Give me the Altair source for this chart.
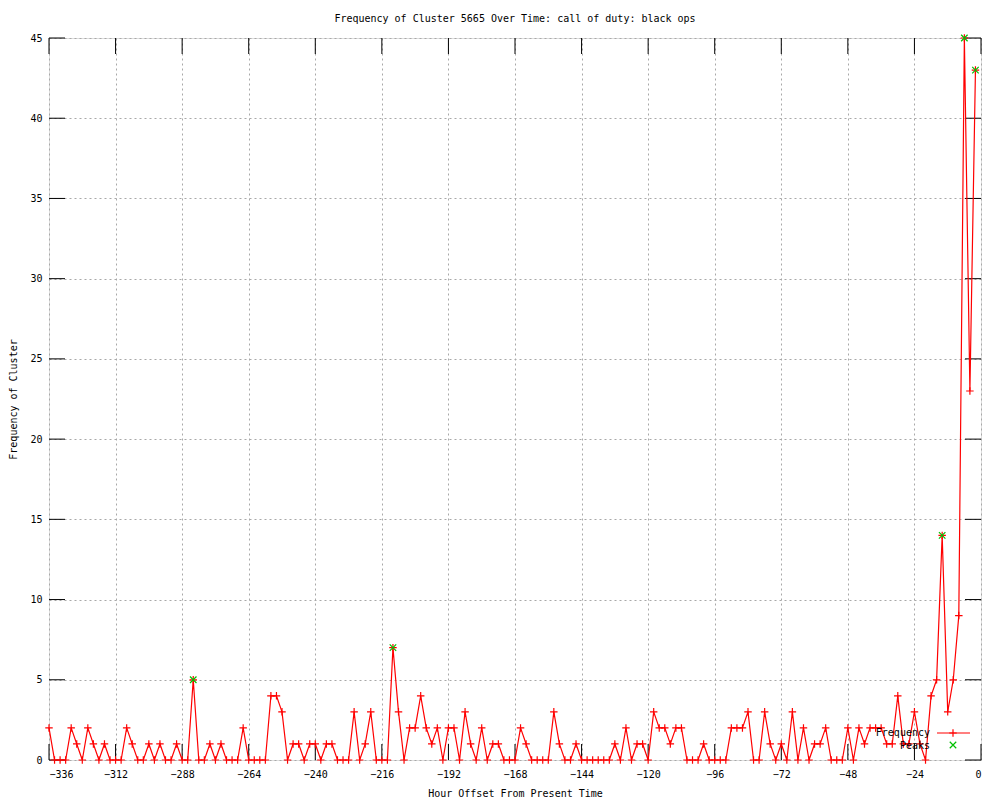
import altair as alt
import pandas as pd

# ---- data ----
hours = list(range(-336, 0, 2))  # 2-hour bins from -336 to -2
freq = [
    2, 0, 0, 0, 2, 1, 0, 2, 1, 0,
    1, 0, 0, 0, 2, 1, 0, 0, 1, 0,
    1, 0, 0, 1, 0, 0, 5, 0, 0, 1,
    0, 1, 0, 0, 0, 2, 0, 0, 0, 0,
    4, 4, 3, 0, 1, 1, 0, 1, 1, 0,
    1, 1, 0, 0, 0, 3, 0, 1, 3, 0,
    0, 0, 7, 3, 0, 2, 2, 4, 2, 1,
    2, 0, 2, 2, 0, 3, 1, 0, 2, 0,
    1, 1, 0, 0, 0, 2, 1, 0, 0, 0,
    0, 3, 1, 0, 0, 1, 0, 0, 0, 0,
    0, 0, 1, 0, 2, 0, 1, 1, 0, 3,
    2, 2, 1, 2, 2, 0, 0, 0, 1, 0,
    0, 0, 0, 2, 2, 2, 3, 0, 0, 3,
    1, 0, 1, 0, 3, 0, 2, 0, 1, 1,
    2, 0, 0, 0, 2, 0, 2, 1, 2, 2,
    2, 1, 1, 4, 1, 1, 3, 1, 0, 4,
    5, 14, 3, 5, 9, 45, 23, 43,
]
peak_hours = [-284, -212, -14, -6, -2]
peak_values = [5, 7, 14, 45, 43]

x_ticks = [-336, -312, -288, -264, -240, -216, -192, -168, -144, -120, -96, -72, -48, -24, 0]
y_ticks = [0, 5, 10, 15, 20, 25, 30, 35, 40, 45]

title_text = "Frequency of Cluster 5665 Over Time: call of duty: black ops"
x_title = "Hour Offset From Present Time"
y_title = "Frequency of Cluster"
legend_labels = ["Frequency", "Peaks"]

# ---- styling ----
FONT = "DejaVu Sans Mono"
FS = 10
RED = "#ff0000"
GREEN = "#00c000"
GRID = "#a8a8a8"
W, H = 932, 722
TICK = 16

df = pd.DataFrame({"hour": hours, "freq": freq})
peaks_df = pd.DataFrame({"hour": peak_hours, "freq": peak_values})
xt_df = pd.DataFrame({"hour": x_ticks})
yt_df = pd.DataFrame({"freq": y_ticks})

xs = alt.Scale(domain=[-336, 0], nice=False, zero=False)
ys = alt.Scale(domain=[0, 45], nice=False, zero=False)

x_axis = alt.Axis(
    values=x_ticks, format="d", ticks=False, domain=False,
    grid=True, gridDash=[2, 3], gridColor=GRID, gridWidth=1, gridOpacity=1,
    labelFont=FONT, labelFontSize=FS, labelColor="black", labelPadding=9,
    labelOverlap=False,
    title=x_title, titleFont=FONT, titleFontSize=FS, titleFontWeight="normal",
    titleColor="black", titleX=W / 2, titleY=33, titleBaseline="middle",
    titleAlign="center",
)
y_axis = alt.Axis(
    values=y_ticks, format="d", ticks=False, domain=False,
    grid=True, gridDash=[2, 3], gridColor=GRID, gridWidth=1, gridOpacity=1,
    labelFont=FONT, labelFontSize=FS, labelColor="black", labelPadding=7,
    labelOverlap=False,
    title=y_title, titleFont=FONT, titleFontSize=FS, titleFontWeight="normal",
    titleColor="black", titleX=-36, titleY=H / 2, titleAngle=270,
    titleBaseline="middle", titleAlign="center",
)

line = alt.Chart(df).mark_line(color=RED, strokeWidth=1.2).encode(
    x=alt.X("hour:Q", scale=xs, axis=x_axis),
    y=alt.Y("freq:Q", scale=ys, axis=y_axis),
)
plus_shape = "M-1,0L1,0M0,-1L0,1"
x_shape = "M-1,-1L1,1M-1,1L1,-1"
points = alt.Chart(df).mark_point(
    shape=plus_shape, size=56, filled=False, color=RED, strokeWidth=1.2, opacity=1
).encode(x="hour:Q", y="freq:Q")
peaks = alt.Chart(peaks_df).mark_point(
    shape=x_shape, size=42, filled=False, color=GREEN, strokeWidth=1.2, opacity=1
).encode(x="hour:Q", y="freq:Q")

# gnuplot-style inward ticks on all four sides
xt_bottom = alt.Chart(xt_df).mark_rule(color="black", strokeWidth=1).encode(
    x="hour:Q", y=alt.value(H), y2=alt.value(H - TICK))
xt_top = alt.Chart(xt_df).mark_rule(color="black", strokeWidth=1).encode(
    x="hour:Q", y=alt.value(0), y2=alt.value(TICK))
yt_left = alt.Chart(yt_df).mark_rule(color="black", strokeWidth=1).encode(
    y="freq:Q", x=alt.value(0), x2=alt.value(TICK))
yt_right = alt.Chart(yt_df).mark_rule(color="black", strokeWidth=1).encode(
    y="freq:Q", x=alt.value(W), x2=alt.value(W - TICK))

# legend (inside, lower right)
one = pd.DataFrame({"k": [0]})
leg_freq = alt.Chart(pd.DataFrame({"label": [legend_labels[0]]})).mark_text(
    align="right", baseline="middle", font=FONT, fontSize=FS, color="black"
).encode(text="label:N", x=alt.value(881), y=alt.value(695))
leg_peaks = alt.Chart(pd.DataFrame({"label": [legend_labels[1]]})).mark_text(
    align="right", baseline="middle", font=FONT, fontSize=FS, color="black"
).encode(text="label:N", x=alt.value(881), y=alt.value(708))
leg_line = alt.Chart(one).mark_rule(color=RED, strokeWidth=1.2).encode(
    x=alt.value(888), x2=alt.value(921), y=alt.value(695))
leg_plus = alt.Chart(one).mark_point(
    shape=plus_shape, size=56, filled=False, color=RED, strokeWidth=1.2, opacity=1
).encode(x=alt.value(904), y=alt.value(695))
leg_x = alt.Chart(one).mark_point(
    shape=x_shape, size=42, filled=False, color=GREEN, strokeWidth=1.2, opacity=1
).encode(x=alt.value(904), y=alt.value(707))

chart = alt.layer(
    xt_bottom, xt_top, yt_left, yt_right,
    line, points, peaks,
    leg_line, leg_plus, leg_x, leg_freq, leg_peaks,
).properties(
    width=W, height=H,
    title=alt.TitleParams(
        text=title_text, font=FONT, fontSize=FS, fontWeight="normal",
        color="black", anchor="middle", frame="group", offset=8,
    ),
    autosize=alt.AutoSizeParams(type="none"),
    padding={"left": 41, "top": 30, "right": 11, "bottom": 40},
).configure_view(
    stroke="black", strokeWidth=1
).configure(background="white")

chart.save("out.html", embed_options={"renderer": "svg", "actions": False})
